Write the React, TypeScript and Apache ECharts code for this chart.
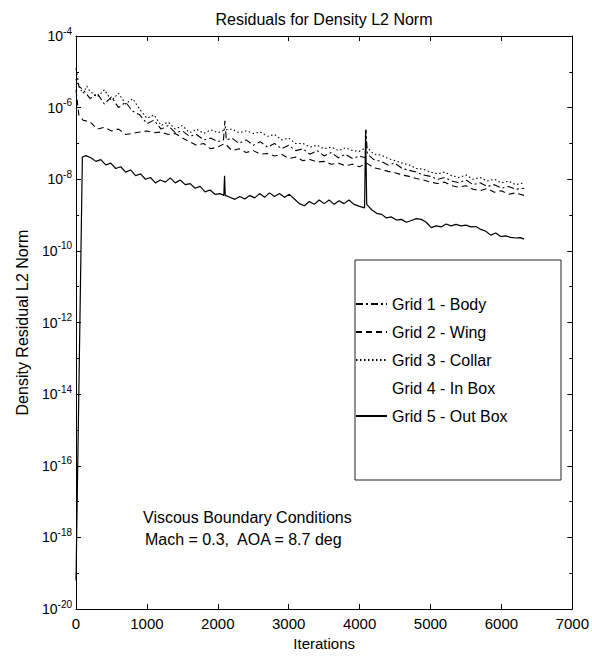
import React, { useEffect, useRef } from "react";
import * as echarts from "echarts";

// Residuals are stored as log10 exponents: value e means 10^e.
const xTickStep = 1000;
const yTickStep = 2;
const xRange = [0, 7000];
const yRange = [-20, -4];

const titleText = "Residuals for Density L2 Norm";
const xName = "Iterations";
const yName = "Density Residual L2 Norm";
const noteLines = ["Viscous Boundary Conditions", "Mach = 0.3,  AOA = 8.7 deg"];

const seriesNames = [
  "Grid 1 - Body",
  "Grid 2 - Wing",
  "Grid 3 - Collar",
  "Grid 4 - In Box",
  "Grid 5 - Out Box",
];

const grid1Body: [number, number][] = [
  [0, -4.9], [40, -5.4], [100, -5.5], [200, -5.75], [300, -5.6], [400, -5.9], [500, -5.7],
  [600, -6.0], [700, -5.85], [800, -6.1], [900, -6.2], [1000, -6.45], [1100, -6.35],
  [1200, -6.6], [1300, -6.5], [1400, -6.7], [1500, -6.65], [1600, -6.8], [1700, -6.75],
  [1800, -6.9], [1900, -6.85], [2000, -6.95], [2080, -6.9], [2100, -6.37], [2120, -6.9],
  [2200, -6.85], [2300, -7.0], [2400, -6.9], [2500, -7.05], [2600, -6.95], [2700, -7.1],
  [2800, -7.0], [2900, -7.15], [3000, -7.05], [3100, -7.2], [3200, -7.15], [3300, -7.3],
  [3400, -7.2], [3500, -7.35], [3600, -7.25], [3700, -7.4], [3800, -7.3], [3900, -7.42],
  [4000, -7.35], [4080, -7.4], [4090, -6.62], [4110, -7.3], [4200, -7.45], [4300, -7.5],
  [4400, -7.6], [4500, -7.55], [4600, -7.7], [4700, -7.75], [4800, -7.8], [4900, -7.88],
  [5000, -7.92], [5100, -8.0], [5200, -7.95], [5300, -8.05], [5400, -8.1], [5500, -8.02],
  [5600, -8.15], [5700, -8.1], [5800, -8.2], [5900, -8.15], [6000, -8.25], [6100, -8.2],
  [6200, -8.28], [6320, -8.25],
];

const grid2Wing: [number, number][] = [
  [0, -5.5], [40, -6.2], [100, -6.35], [200, -6.4], [300, -6.6], [400, -6.55], [500, -6.65],
  [600, -6.6], [700, -6.75], [800, -6.72], [900, -6.68], [1000, -6.65], [1100, -6.7],
  [1200, -6.68], [1300, -6.75], [1400, -6.72], [1500, -6.85], [1600, -6.95], [1700, -7.05],
  [1800, -7.0], [1900, -7.15], [2000, -7.1], [2100, -7.0], [2200, -7.2], [2300, -7.15],
  [2400, -7.25], [2500, -7.2], [2600, -7.3], [2700, -7.28], [2800, -7.35], [2900, -7.3],
  [3000, -7.42], [3100, -7.38], [3200, -7.48], [3300, -7.45], [3400, -7.52], [3500, -7.5],
  [3600, -7.58], [3700, -7.55], [3800, -7.62], [3900, -7.58], [4000, -7.65], [4100, -7.55],
  [4200, -7.68], [4300, -7.72], [4400, -7.78], [4500, -7.82], [4600, -7.88], [4700, -7.92],
  [4800, -7.98], [4900, -8.02], [5000, -8.08], [5100, -8.12], [5200, -8.08], [5300, -8.18],
  [5400, -8.22], [5500, -8.18], [5600, -8.28], [5700, -8.32], [5800, -8.26], [5900, -8.36],
  [6000, -8.32], [6100, -8.42], [6200, -8.38], [6320, -8.45],
];

const grid3Collar: [number, number][] = [
  [0, -5.2], [50, -5.45], [100, -5.6], [150, -5.4], [200, -5.55], [300, -5.7], [400, -5.5],
  [500, -5.8], [600, -5.6], [700, -5.9], [800, -5.75], [900, -6.05], [1000, -6.3],
  [1100, -6.2], [1200, -6.5], [1300, -6.4], [1400, -6.6], [1500, -6.5], [1600, -6.7],
  [1700, -6.6], [1800, -6.72], [1900, -6.62], [2000, -6.7], [2100, -6.62], [2200, -6.6],
  [2300, -6.7], [2400, -6.65], [2500, -6.72], [2600, -6.68], [2700, -6.8], [2800, -6.75],
  [2900, -6.9], [3000, -6.85], [3100, -7.0], [3200, -7.0], [3300, -7.1], [3400, -7.05],
  [3500, -7.15], [3600, -7.1], [3700, -7.2], [3800, -7.12], [3900, -7.2], [4000, -7.22],
  [4100, -7.1], [4200, -7.3], [4300, -7.32], [4400, -7.42], [4500, -7.48], [4600, -7.55],
  [4700, -7.6], [4800, -7.7], [4900, -7.72], [5000, -7.8], [5100, -7.85], [5200, -7.8],
  [5300, -7.9], [5400, -7.95], [5500, -7.88], [5600, -8.0], [5700, -7.95], [5800, -8.05],
  [5900, -8.0], [6000, -8.1], [6100, -8.05], [6200, -8.15], [6320, -8.1],
];

// Grid 4 does not show in the plot (no visible trace).
const grid4InBox: [number, number][] = [];

const grid5OutBox: [number, number][] = [
  [0, -19.2], [90, -7.38], [140, -7.34], [210, -7.4], [280, -7.5], [350, -7.45], [420, -7.6],
  [490, -7.55], [560, -7.7], [630, -7.65], [700, -7.8], [770, -7.74], [840, -7.9],
  [910, -7.85], [980, -8.0], [1050, -7.95], [1120, -8.1], [1190, -8.02], [1260, -8.08],
  [1330, -7.96], [1400, -8.1], [1470, -8.02], [1540, -8.15], [1610, -8.12], [1680, -8.25],
  [1750, -8.2], [1820, -8.35], [1890, -8.3], [1960, -8.42], [2030, -8.4], [2085, -8.45],
  [2095, -7.9], [2105, -8.45], [2170, -8.5], [2240, -8.56], [2310, -8.48], [2380, -8.55],
  [2450, -8.45], [2520, -8.52], [2590, -8.4], [2660, -8.5], [2730, -8.38], [2800, -8.48],
  [2870, -8.4], [2940, -8.5], [3010, -8.42], [3080, -8.55], [3150, -8.68], [3220, -8.74],
  [3290, -8.62], [3360, -8.7], [3430, -8.58], [3500, -8.68], [3570, -8.58], [3640, -8.7],
  [3710, -8.6], [3780, -8.68], [3850, -8.58], [3920, -8.7], [3990, -8.75], [4070, -8.8],
  [4085, -6.62], [4100, -8.7], [4170, -8.85], [4240, -8.95], [4310, -8.98], [4380, -9.08],
  [4450, -9.05], [4520, -9.14], [4590, -9.12], [4660, -9.2], [4730, -9.15], [4800, -9.1],
  [4870, -9.12], [4940, -9.2], [5010, -9.35], [5080, -9.3], [5150, -9.33], [5220, -9.25],
  [5290, -9.3], [5360, -9.26], [5430, -9.3], [5500, -9.28], [5570, -9.33], [5640, -9.32],
  [5710, -9.4], [5780, -9.45], [5850, -9.56], [5920, -9.5], [5990, -9.6], [6060, -9.58],
  [6130, -9.62], [6200, -9.64], [6270, -9.63], [6320, -9.67],
];

const FONT = "'Liberation Sans', Arial, Helvetica, sans-serif";
const INK = "#000";

export default function App() {
  const ref = useRef<HTMLDivElement>(null);

  useEffect(() => {
    if (!ref.current) return;
    const chart = echarts.init(ref.current, null, { renderer: "svg" });

    const lineSeries = (
      name: string,
      data: [number, number][],
      type: any,
      width: number,
      opacity = 1
    ) => ({
      name,
      type: "line",
      data,
      symbol: "none",
      showSymbol: false,
      clip: true,
      lineStyle: { color: INK, width, type, opacity },
      itemStyle: { color: INK },
      emphasis: { disabled: true },
    });

    const axisCommon = {
      type: "value",
      axisLine: { show: true, onZero: false, lineStyle: { color: INK, width: 1 } },
      axisTick: { show: true, inside: true, length: 5, lineStyle: { color: INK, width: 1 } },
      splitLine: { show: false },
    };

    chart.setOption({
      animation: false,
      backgroundColor: "#fff",
      textStyle: { fontFamily: FONT, color: INK },
      title: {
        text: titleText,
        left: 319,
        textAlign: "center",
        top: 6,
        textStyle: { fontFamily: FONT, fontSize: 16, fontWeight: "normal", color: INK },
      },
      grid: { left: 76, right: 16, top: 36, bottom: 33, containLabel: false },
      xAxis: [
        {
          ...axisCommon,
          position: "bottom",
          min: xRange[0],
          max: xRange[1],
          interval: xTickStep,
          axisLabel: {
            color: INK,
            fontSize: 15,
            margin: 7,
            fontFamily: FONT,
            formatter: (v: number) => String(v),
          },
          name: xName,
          nameLocation: "middle",
          nameGap: 16,
          nameTextStyle: { color: INK, fontSize: 15, fontFamily: FONT },
        },
        {
          ...axisCommon,
          position: "top",
          min: xRange[0],
          max: xRange[1],
          interval: xTickStep,
          axisLabel: { show: false },
        },
      ],
      yAxis: [
        {
          ...axisCommon,
          position: "left",
          min: yRange[0],
          max: yRange[1],
          interval: yTickStep,
          minorTick: { show: true, splitNumber: 2, length: 3, lineStyle: { color: INK } },
          axisLabel: {
            margin: 4,
            formatter: (v: number) => `{b|10}{s|${v}}`,
            rich: {
              b: { fontSize: 14, lineHeight: 20, color: INK, fontFamily: FONT },
              s: { fontSize: 10, lineHeight: 10, verticalAlign: "top", color: INK, fontFamily: FONT },
            },
          },
          name: yName,
          nameLocation: "middle",
          nameRotate: 90,
          nameGap: 46,
          nameTextStyle: { color: INK, fontSize: 16, fontFamily: FONT },
        },
        {
          ...axisCommon,
          position: "right",
          min: yRange[0],
          max: yRange[1],
          interval: yTickStep,
          minorTick: { show: true, splitNumber: 2, length: 3, lineStyle: { color: INK } },
          axisLabel: { show: false },
        },
      ],
      legend: {
        show: true,
        orient: "vertical",
        left: 355,
        top: 296,
        padding: 0,
        itemWidth: 31,
        itemHeight: 14,
        itemGap: 12,
        selectedMode: false,
        data: seriesNames,
        itemStyle: { color: "transparent", borderColor: "transparent", borderWidth: 0, opacity: 0 },
        textStyle: { color: INK, fontSize: 16, fontFamily: FONT },
      },
      graphic: [
        {
          type: "rect",
          shape: { x: 355, y: 260, width: 206, height: 220 },
          style: { fill: "none", stroke: "#222", lineWidth: 1 },
          silent: true,
        },
        {
          type: "text",
          x: 143,
          y: 517,
          style: {
            text: noteLines[0],
            fontSize: 16,
            fontFamily: FONT,
            fill: INK,
            verticalAlign: "middle",
          },
          silent: true,
        },
        {
          type: "text",
          x: 145,
          y: 539,
          style: {
            text: noteLines[1],
            fontSize: 16,
            fontFamily: FONT,
            fill: INK,
            verticalAlign: "middle",
          },
          silent: true,
        },
      ],
      series: [
        lineSeries(seriesNames[0], grid1Body, [7, 3, 2, 3], 1.1),
        lineSeries(seriesNames[1], grid2Wing, [6, 4], 1.1),
        lineSeries(seriesNames[2], grid3Collar, [1.5, 2.5], 1.1),
        lineSeries(seriesNames[3], grid4InBox, "solid", 1, 0),
        lineSeries(seriesNames[4], grid5OutBox, "solid", 1.2),
      ],
    });

    return () => chart.dispose();
  }, []);

  return (
    <div
      ref={ref}
      style={{ position: "fixed", left: 0, top: 0, width: 592, height: 656, background: "#fff" }}
    />
  );
}
